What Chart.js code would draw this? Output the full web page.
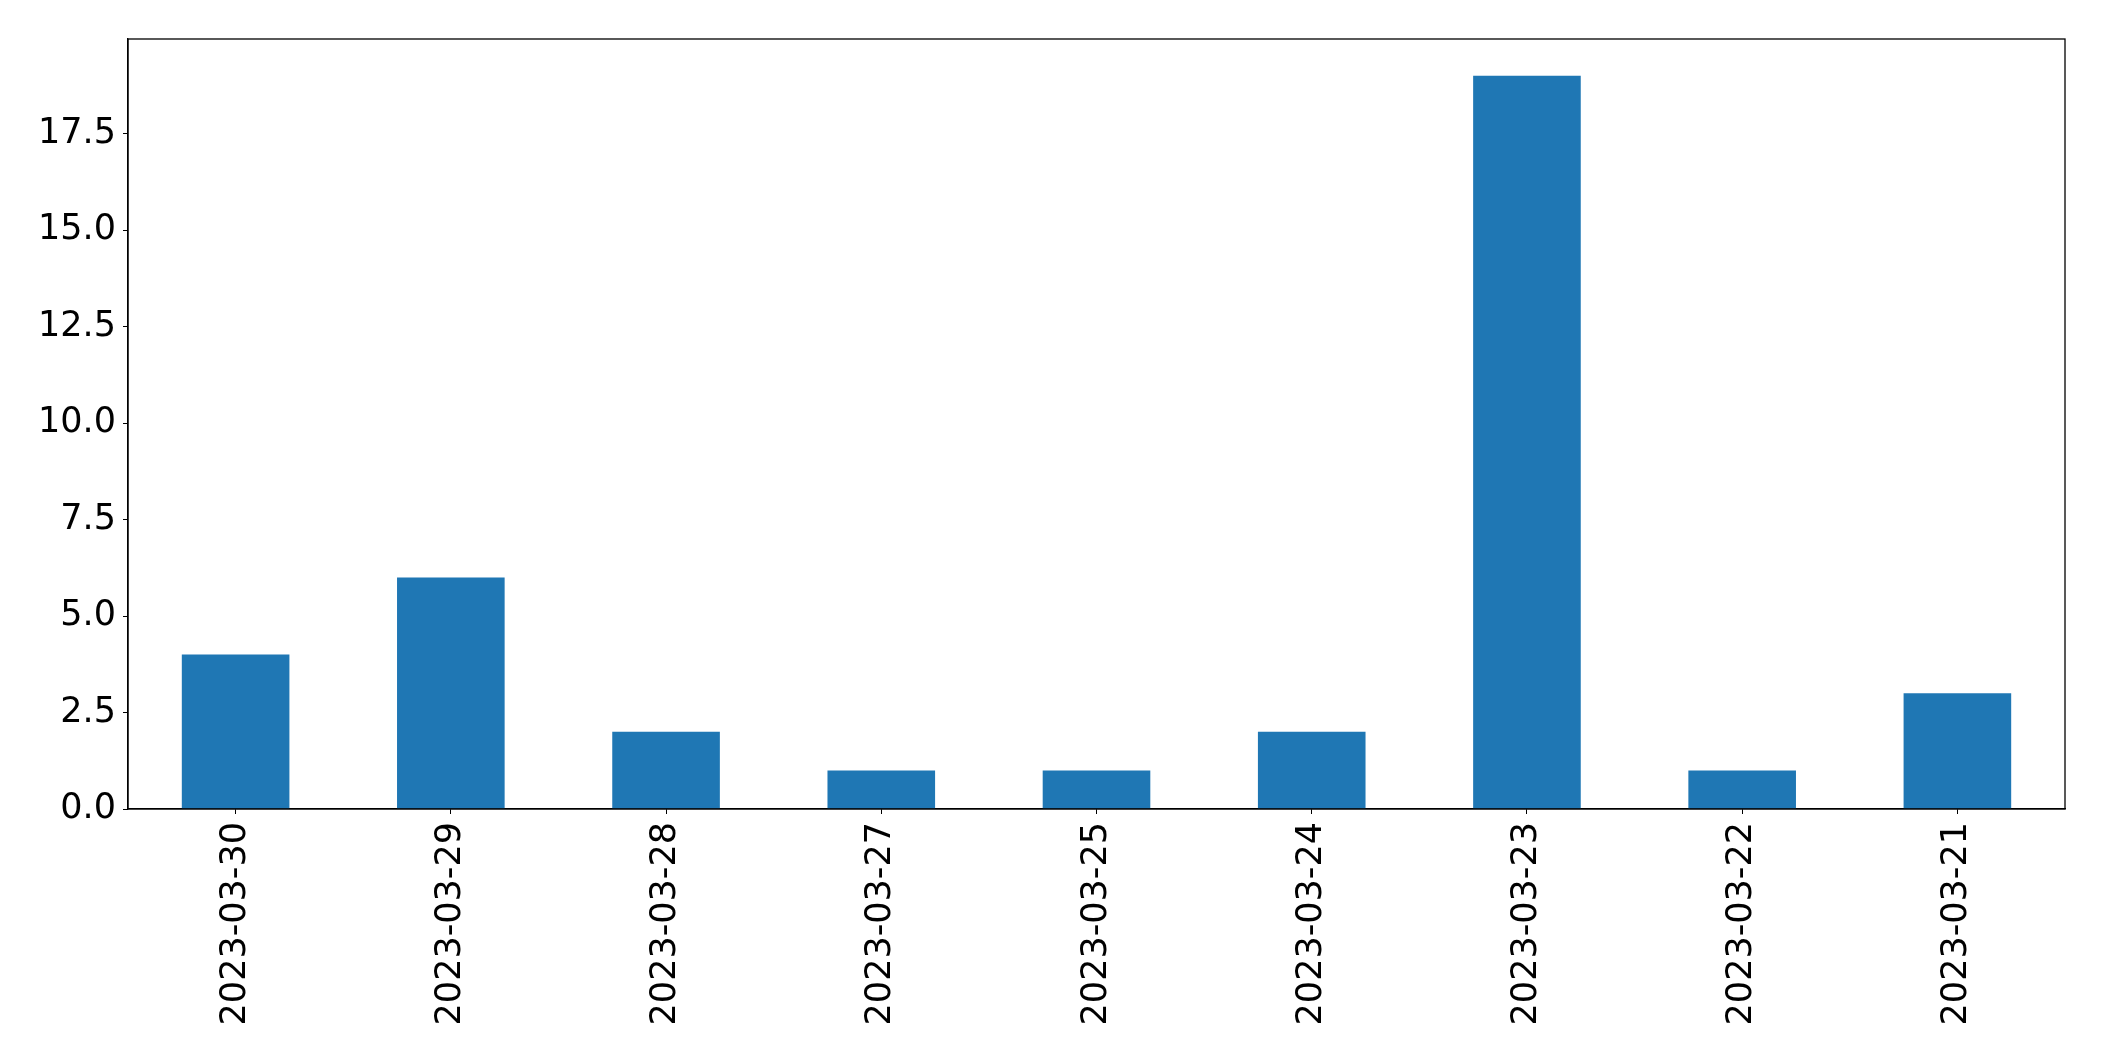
<!DOCTYPE html>
<html>
<head>
<meta charset="utf-8">
<script src="https://cdn.jsdelivr.net/npm/chart.js@4/dist/chart.umd.min.js"></script>
<style>
  html, body { margin: 0; padding: 0; background: #fff; }
  #wrap { width: 2104px; height: 1061px; }
</style>
</head>
<body>
<div id="wrap"><canvas id="chart" width="2104" height="1061"></canvas></div>
<script>
const categories = ['2023-03-30', '2023-03-29', '2023-03-28', '2023-03-27', '2023-03-25',
  '2023-03-24', '2023-03-23', '2023-03-22', '2023-03-21'];
const counts = [4, 6, 2, 1, 1, 2, 19, 1, 3];
const yTicks = [0, 2.5, 5, 7.5, 10, 12.5, 15, 17.5];

// full box round the plot area, like matplotlib spines
const frame = {
  id: 'frame',
  afterDraw(chart) {
    const a = chart.chartArea;
    const ctx = chart.ctx;
    ctx.save();
    ctx.strokeStyle = '#000';
    ctx.lineWidth = 1.3;
    ctx.strokeRect(a.left, a.top, a.right - a.left, a.bottom - a.top);
    ctx.restore();
  }
};

const tickFont = { family: 'DejaVu Sans', size: 35 };

new Chart(document.getElementById('chart').getContext('2d'), {
  type: 'bar',
  data: {
    labels: categories,
    datasets: [{
      data: counts,
      backgroundColor: '#1f77b4',
      borderWidth: 0,
      barPercentage: 0.5,
      categoryPercentage: 1.0
    }]
  },
  options: {
    responsive: false,
    animation: false,
    layout: { padding: { left: 0, top: 39, right: 39, bottom: 0 } },
    plugins: { legend: { display: false }, tooltip: { enabled: false } },
    scales: {
      x: {
        afterFit(scale) { scale.height = 252; },
        grid: { display: true, drawOnChartArea: false, drawTicks: true, tickLength: 5, color: '#000', offset: false },
        border: { display: true, color: '#000', width: 1.3 },
        ticks: { color: '#000', font: tickFont, minRotation: 90, maxRotation: 90, autoSkip: false, padding: 8 }
      },
      y: {
        min: 0,
        max: 19.95,
        afterFit(scale) { scale.width = 128; },
        afterBuildTicks(scale) { scale.ticks = yTicks.map(v => ({ value: v })); },
        grid: { display: true, drawOnChartArea: false, drawTicks: true, tickLength: 5, color: '#000' },
        border: { display: true, color: '#000', width: 1.3 },
        ticks: { color: '#000', font: tickFont, padding: 7, callback: v => Number(v).toFixed(1) }
      }
    }
  },
  plugins: [frame]
});
</script>
</body>
</html>
